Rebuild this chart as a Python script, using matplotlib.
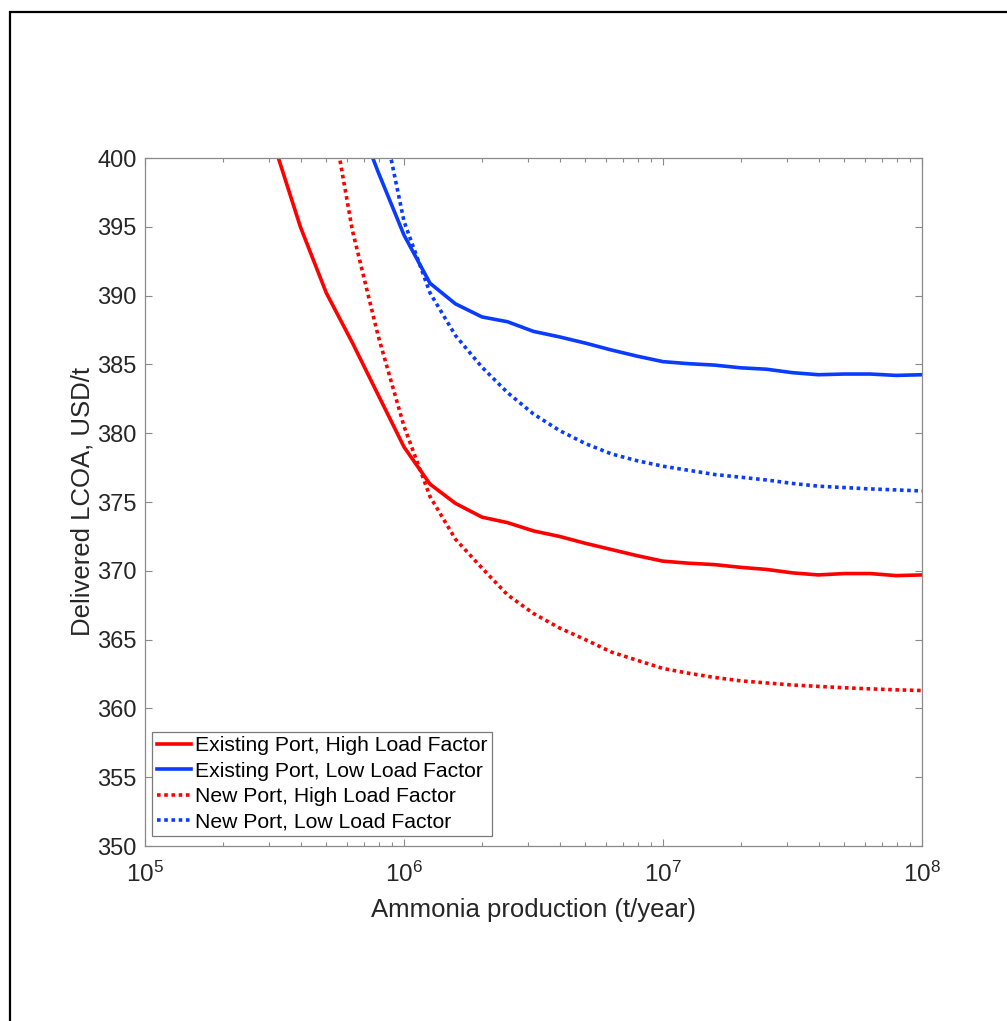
import matplotlib
matplotlib.use("Agg")
import matplotlib.pyplot as plt
from matplotlib.patches import Rectangle

plt.rcParams['font.family'] = ['Liberation Sans', 'DejaVu Sans']
plt.rcParams['mathtext.default'] = 'regular'

# production grid (t/year)
production = [3.16e5, 3.98e5, 5.01e5, 6.31e5, 7.94e5,
              1.00e6, 1.26e6, 1.58e6, 2.00e6, 2.51e6, 3.16e6, 3.98e6, 5.01e6, 6.31e6, 7.94e6,
              1.00e7, 1.26e7, 1.58e7, 2.00e7, 2.51e7, 3.16e7, 3.98e7, 5.01e7, 6.31e7, 7.94e7,
              1.00e8]

existing_high = [400.9, 395.0, 390.2, 386.6, 382.8,
                 379.0, 376.3, 374.9, 373.9, 373.5, 372.9, 372.5, 372.0, 371.55, 371.1,
                 370.7, 370.55, 370.45, 370.25, 370.1, 369.85, 369.7, 369.8, 369.8, 369.65,
                 369.7]

existing_low = [None, None, None, 403.9, 399.0,
                394.4, 390.9, 389.4, 388.45, 388.1, 387.4, 387.0, 386.55, 386.05, 385.6,
                385.2, 385.05, 384.95, 384.75, 384.65, 384.4, 384.25, 384.3, 384.3, 384.2,
                384.25]

new_high = [None, None, 405.5, 394.8, 387.1,
            380.5, 375.4, 372.3, 370.2, 368.25, 366.9, 365.85, 365.0, 364.1, 363.5,
            362.9, 362.55, 362.25, 362.0, 361.85, 361.7, 361.6, 361.5, 361.42, 361.35,
            361.3]

new_low = [None, None, None, None, 404.5,
           395.4, 390.2, 387.1, 384.8, 382.95, 381.4, 380.2, 379.25, 378.5, 378.0,
           377.6, 377.3, 377.0, 376.8, 376.6, 376.35, 376.15, 376.05, 375.95, 375.88,
           375.8]

series = [
    ("Existing Port, High Load Factor", existing_high, '#ff0000', '-'),
    ("Existing Port, Low Load Factor", existing_low, '#0a3cff', '-'),
    ("New Port, High Load Factor", new_high, '#ff0000', (0, (1, 1.0))),
    ("New Port, Low Load Factor", new_low, '#0a3cff', (0, (1, 1.0))),
]


def clean(xs, ys):
    pairs = [(x, y) for x, y in zip(xs, ys) if y is not None]
    return [p[0] for p in pairs], [p[1] for p in pairs]


fig = plt.figure(figsize=(10.07, 10.21), dpi=100)
ax = fig.add_axes([145 / 1007, 175 / 1021, 777 / 1007, 688 / 1021])

for label, values, color, style in series:
    xs, ys = clean(production, values)
    ax.plot(xs, ys, color=color, linestyle=style, linewidth=2.6, label=label)

ax.set_xscale('log')
ax.set_xlim(1e5, 1e8)
ax.set_ylim(350, 400)
ax.set_yticks(range(350, 401, 5))

axis_gray = '#8a8a8a'
for spine in ax.spines.values():
    spine.set_color(axis_gray)
    spine.set_linewidth(0.9)
ax.tick_params(which='both', direction='in', top=True, right=True,
               color=axis_gray, labelsize=17, labelcolor='#262626')
ax.tick_params(which='major', length=5, width=0.8, pad=6)
ax.tick_params(which='minor', length=3.2, width=0.8)
ax.tick_params(axis='x', which='major', pad=11, labelsize=17.5)

ax.set_xlabel("Ammonia production (t/year)", fontsize=18.5, color='#262626', labelpad=8)
ax.set_ylabel("Delivered LCOA, USD/t", fontsize=18.5, color='#262626', labelpad=2)

leg = ax.legend(loc='lower left', bbox_to_anchor=(7 / 777, 10 / 688), borderaxespad=0,
                fontsize=15.2, handlelength=1.65, handletextpad=0.15,
                labelspacing=0.3, borderpad=0.22, fancybox=False, framealpha=1)
leg.get_frame().set_edgecolor('#7a7a7a')
leg.get_frame().set_linewidth(0.9)

# outer frame around the figure
fig.patches.append(Rectangle((10 / 1007, -0.02), 1.05, 1 - 12 / 1021 + 0.02,
                             transform=fig.transFigure, fill=False,
                             edgecolor='black', linewidth=1.6, clip_on=False))

fig.savefig("out.png", dpi=100)
plt.close(fig)
